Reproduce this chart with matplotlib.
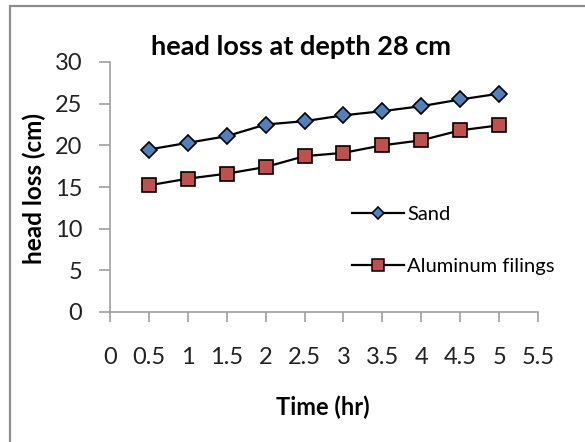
import matplotlib
matplotlib.use("Agg")
import matplotlib.pyplot as plt
from matplotlib.patches import Rectangle
from matplotlib.lines import Line2D

time_hr = [0.5, 1.0, 1.5, 2.0, 2.5, 3.0, 3.5, 4.0, 4.5, 5.0]
sand = [19.5, 20.3, 21.1, 22.5, 22.9, 23.6, 24.1, 24.7, 25.5, 26.2]
aluminum = [15.2, 16.0, 16.6, 17.4, 18.7, 19.1, 20.0, 20.6, 21.8, 22.4]
xticks = [0, 0.5, 1, 1.5, 2, 2.5, 3, 3.5, 4, 4.5, 5, 5.5]
xtick_labels = ["0", "0.5", "1", "1.5", "2", "2.5", "3", "3.5", "4", "4.5", "5", "5.5"]
yticks = [0, 5, 10, 15, 20, 25, 30]

plt.rcParams['font.family'] = ['Lato', 'DejaVu Sans']

fig = plt.figure(figsize=(5.85, 4.42), dpi=100)
fig.patches.append(Rectangle((10/585, -0.05), 1.0, 1 - 6/442 + 0.05, transform=fig.transFigure,
                             fill=False, edgecolor='#8c8c8c', linewidth=1.6, zorder=0))

ax = fig.add_axes([110/585, 1 - 312/442, (538 - 110)/585, (312 - 62)/442])
ax.plot(time_hr, sand, color='black', linewidth=1.6, marker='D', markersize=8.3,
        markerfacecolor='#4F81BD', markeredgecolor='black', markeredgewidth=1.2)
ax.plot(time_hr, aluminum, color='black', linewidth=1.6, marker='s', markersize=10,
        markerfacecolor='#C0504D', markeredgecolor='black', markeredgewidth=1.2)

ax.set_xlim(0, 5.5)
ax.set_ylim(0, 30)
ax.set_xticks(xticks)
ax.set_xticklabels(xtick_labels)
ax.set_yticks(yticks)
for s in ['top', 'right']:
    ax.spines[s].set_visible(False)
for s in ['left', 'bottom']:
    ax.spines[s].set_color('#a0a0a0')
    ax.spines[s].set_linewidth(1.2)
ax.tick_params(axis='x', direction='out', length=7, width=1.2, color='#a0a0a0', pad=18, labelsize=17)
ax.tick_params(axis='y', direction='out', length=8, width=1.2, color='#a0a0a0', pad=12, labelsize=17)
for lbl in ax.get_xticklabels() + ax.get_yticklabels():
    lbl.set_color('#222222')

fig.text(301/585, 1 - 47/442, 'head loss at depth 28 cm', fontsize=19.5, fontweight='bold',
         ha='center', va='center')
fig.text(34/585, 1 - 188/442, 'head loss (cm)', fontsize=17.5, fontweight='bold',
         ha='center', va='center', rotation=90)
fig.text(323/585, 1 - 407/442, 'Time (hr)', fontsize=17, fontweight='bold',
         ha='center', va='center')

handles = [
    Line2D([], [], color='black', linewidth=1.6, marker='D', markersize=6,
           markerfacecolor='#4F81BD', markeredgecolor='black', markeredgewidth=1.1),
    Line2D([], [], color='black', linewidth=1.6, marker='s', markersize=8,
           markerfacecolor='#C0504D', markeredgecolor='black', markeredgewidth=1.1),
]
ax.legend(handles, ['Sand', 'Aluminum filings'], loc='upper left',
          bbox_to_anchor=(352/585, 1 - 206/442), bbox_transform=fig.transFigure,
          frameon=False, fontsize=14.5, handlelength=2.6, handletextpad=0.15,
          labelspacing=1.75, borderpad=0, borderaxespad=0)

fig.savefig('out.png', dpi=100)
